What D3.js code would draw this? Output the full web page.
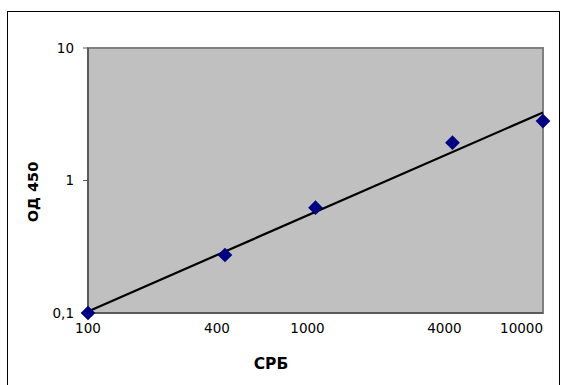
<!DOCTYPE html>
<html>
<head>
<meta charset="utf-8">
<script src="https://cdn.jsdelivr.net/npm/d3@7"></script>
<style>
  body { margin: 0; background: #fff; }
  text { font-family: "DejaVu Sans", Verdana, sans-serif; }
</style>
</head>
<body>
<div id="chart"></div>
<script>
// data
const crp = [100, 400, 1000, 4000, 10000];
const od450 = [0.1, 0.274, 0.624, 1.93, 2.81];
const xTicks = [100, 400, 1000, 4000, 10000];
const yTicks = [0.1, 1, 10];
const yTickLabels = ["0,1", "1", "10"];

const W = 561, H = 385;
let margin = { top: 48, right: 18, bottom: 72, left: 88 },
  width = W - margin.left - margin.right,
  height = H - margin.top - margin.bottom;

const svg = d3.select("#chart").append("svg")
  .attr("width", W)
  .attr("height", H);

// outer chart border
svg.append("rect")
  .attr("x", 7.5).attr("y", 11.5)
  .attr("width", 552).attr("height", 400)
  .attr("fill", "none")
  .attr("stroke", "#000")
  .attr("stroke-width", 1);

const g = svg.append("g")
  .attr("transform", "translate(" + margin.left + "," + margin.top + ")");

let x = d3.scaleLog().domain([100, 10000]).range([0, width]);
let y = d3.scaleLog().domain([0.1, 10]).range([height, 0]);

// plot area
g.append("rect")
  .attr("width", width).attr("height", height)
  .attr("fill", "#c0c0c0")
  .attr("stroke", "#808080")
  .attr("stroke-width", 2);

// axis lines + y ticks
g.append("line")
  .attr("x1", 0).attr("x2", 0).attr("y1", 0).attr("y2", height)
  .attr("stroke", "#5a5a5a").attr("stroke-width", 2);
g.append("line")
  .attr("x1", 0).attr("x2", width).attr("y1", height).attr("y2", height)
  .attr("stroke", "#5a5a5a").attr("stroke-width", 2);

g.selectAll(".ytick")
  .data(yTicks)
  .enter()
  .append("line")
  .attr("x1", -5).attr("x2", 0)
  .attr("y1", (d) => y(d)).attr("y2", (d) => y(d))
  .attr("stroke", "#5a5a5a").attr("stroke-width", 1);

g.selectAll(".ylab")
  .data(yTicks)
  .enter()
  .append("text")
  .attr("x", -14)
  .attr("y", (d) => y(d))
  .attr("dy", "0.36em")
  .attr("text-anchor", "end")
  .attr("font-size", "13.5px")
  .attr("fill", "#000")
  .text((d, i) => yTickLabels[i]);

// x labels (Excel nudges the inner ones a bit left, last one right-aligned)
g.selectAll(".xlab")
  .data(xTicks)
  .enter()
  .append("text")
  .attr("x", (d, i) => {
    if (i == 0) return x(d);
    if (i == xTicks.length - 1) return x(d);
    return x(d) - 8;
  })
  .attr("y", height + 20)
  .attr("text-anchor", (d, i) => (i == xTicks.length - 1 ? "end" : "middle"))
  .attr("font-size", "13.5px")
  .attr("fill", "#000")
  .text((d) => d);

// power trendline: least squares in log-log space
const lx = crp.map((d) => Math.log10(d));
const ly = od450.map((d) => Math.log10(d));
const mx = d3.mean(lx), my = d3.mean(ly);
const slope = d3.sum(lx, (d, i) => (d - mx) * (ly[i] - my)) / d3.sum(lx, (d) => (d - mx) * (d - mx));
const icpt = my - slope * mx;
const fit = (v) => Math.pow(10, icpt + slope * Math.log10(v));

g.append("line")
  .attr("x1", x(100)).attr("y1", y(fit(100)))
  .attr("x2", x(10000)).attr("y2", y(fit(10000)))
  .attr("stroke", "#000")
  .attr("stroke-width", 2.2);

// points
g.selectAll(".pt")
  .data(crp)
  .enter()
  .append("path")
  .attr("class", "pt")
  .attr("d", d3.symbol(d3.symbolSquare, 108))
  .attr("transform", (d, i) => `translate(${x(d)},${y(od450[i])}) rotate(45)`)
  .attr("fill", "#000080");

// axis titles
svg.append("text")
  .attr("x", 271).attr("y", 369)
  .attr("text-anchor", "middle")
  .attr("font-size", "15.5px")
  .attr("font-weight", "bold")
  .text("СРБ");

svg.append("text")
  .attr("transform", "translate(38,192) rotate(-90)")
  .attr("text-anchor", "middle")
  .attr("font-size", "14.5px")
  .attr("font-weight", "bold")
  .text("ОД 450");
</script>
</body>
</html>
